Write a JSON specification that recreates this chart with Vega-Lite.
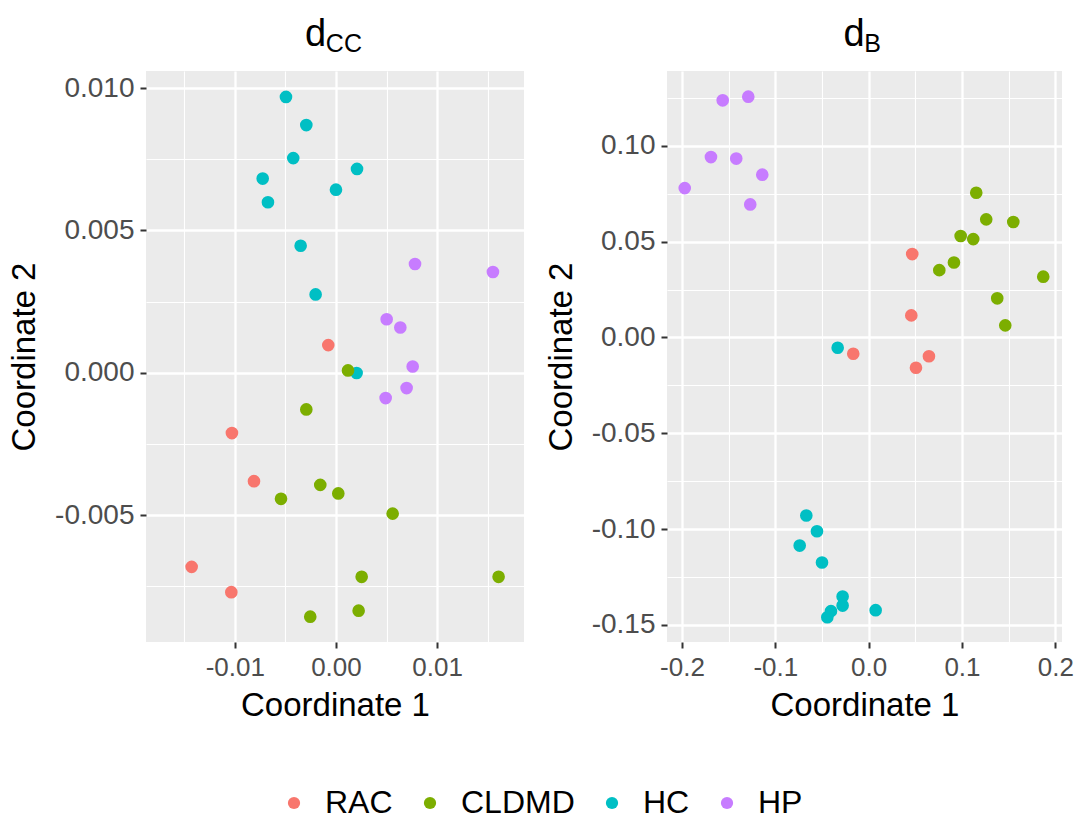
{
  "$schema": "https://vega.github.io/schema/vega-lite/v6.json",
  "padding": {"left": 8, "top": 16, "right": 0, "bottom": 0},
  "background": "white",
  "datasets": {
    "pts": [
      {"panel": "dCC", "group": "HC", "c1": -0.00494, "c2": 0.00969},
      {"panel": "dCC", "group": "HC", "c1": -0.00293, "c2": 0.00870},
      {"panel": "dCC", "group": "HC", "c1": -0.00422, "c2": 0.00754},
      {"panel": "dCC", "group": "HC", "c1": -0.00724, "c2": 0.00682},
      {"panel": "dCC", "group": "HC", "c1": 0.00208, "c2": 0.00716},
      {"panel": "dCC", "group": "HC", "c1": 0.00000, "c2": 0.00643},
      {"panel": "dCC", "group": "HC", "c1": -0.00672, "c2": 0.00599},
      {"panel": "dCC", "group": "HC", "c1": -0.00349, "c2": 0.00446},
      {"panel": "dCC", "group": "HC", "c1": -0.00201, "c2": 0.00275},
      {"panel": "dCC", "group": "HC", "c1": 0.00204, "c2": -0.00001},
      {"panel": "dCC", "group": "HP", "c1": 0.00781, "c2": 0.00382},
      {"panel": "dCC", "group": "HP", "c1": 0.01551, "c2": 0.00354},
      {"panel": "dCC", "group": "HP", "c1": 0.00501, "c2": 0.00188},
      {"panel": "dCC", "group": "HP", "c1": 0.00636, "c2": 0.00159},
      {"panel": "dCC", "group": "HP", "c1": 0.00758, "c2": 0.00022},
      {"panel": "dCC", "group": "HP", "c1": 0.00698, "c2": -0.00054},
      {"panel": "dCC", "group": "HP", "c1": 0.00491, "c2": -0.00089},
      {"panel": "dCC", "group": "RAC", "c1": -0.00076, "c2": 0.00097},
      {"panel": "dCC", "group": "RAC", "c1": -0.01028, "c2": -0.00212},
      {"panel": "dCC", "group": "RAC", "c1": -0.00810, "c2": -0.00381},
      {"panel": "dCC", "group": "RAC", "c1": -0.01426, "c2": -0.00682},
      {"panel": "dCC", "group": "RAC", "c1": -0.01034, "c2": -0.00771},
      {"panel": "dCC", "group": "CLDMD", "c1": 0.00119, "c2": 0.00008},
      {"panel": "dCC", "group": "CLDMD", "c1": -0.00293, "c2": -0.00129},
      {"panel": "dCC", "group": "CLDMD", "c1": -0.00155, "c2": -0.00394},
      {"panel": "dCC", "group": "CLDMD", "c1": 0.00023, "c2": -0.00424},
      {"panel": "dCC", "group": "CLDMD", "c1": -0.00543, "c2": -0.00443},
      {"panel": "dCC", "group": "CLDMD", "c1": 0.00560, "c2": -0.00495},
      {"panel": "dCC", "group": "CLDMD", "c1": 0.00254, "c2": -0.00717},
      {"panel": "dCC", "group": "CLDMD", "c1": 0.01607, "c2": -0.00717},
      {"panel": "dCC", "group": "CLDMD", "c1": 0.00224, "c2": -0.00836},
      {"panel": "dCC", "group": "CLDMD", "c1": -0.00254, "c2": -0.00857},
      {"panel": "dB", "group": "HP", "c1": -0.1564, "c2": 0.1237},
      {"panel": "dB", "group": "HP", "c1": -0.1290, "c2": 0.1256},
      {"panel": "dB", "group": "HP", "c1": -0.1690, "c2": 0.0941},
      {"panel": "dB", "group": "HP", "c1": -0.1419, "c2": 0.0933},
      {"panel": "dB", "group": "HP", "c1": -0.1140, "c2": 0.0849},
      {"panel": "dB", "group": "HP", "c1": -0.1971, "c2": 0.0779},
      {"panel": "dB", "group": "HP", "c1": -0.1269, "c2": 0.0694},
      {"panel": "dB", "group": "CLDMD", "c1": 0.1153, "c2": 0.0755},
      {"panel": "dB", "group": "CLDMD", "c1": 0.1260, "c2": 0.0616},
      {"panel": "dB", "group": "CLDMD", "c1": 0.1550, "c2": 0.0602},
      {"panel": "dB", "group": "CLDMD", "c1": 0.0986, "c2": 0.0529},
      {"panel": "dB", "group": "CLDMD", "c1": 0.1121, "c2": 0.0513},
      {"panel": "dB", "group": "CLDMD", "c1": 0.0914, "c2": 0.0391},
      {"panel": "dB", "group": "CLDMD", "c1": 0.0757, "c2": 0.0351},
      {"panel": "dB", "group": "CLDMD", "c1": 0.1871, "c2": 0.0317},
      {"panel": "dB", "group": "CLDMD", "c1": 0.1378, "c2": 0.0204},
      {"panel": "dB", "group": "CLDMD", "c1": 0.1464, "c2": 0.0063},
      {"panel": "dB", "group": "RAC", "c1": 0.0467, "c2": 0.0435},
      {"panel": "dB", "group": "RAC", "c1": 0.0457, "c2": 0.0115},
      {"panel": "dB", "group": "RAC", "c1": -0.0165, "c2": -0.0085},
      {"panel": "dB", "group": "RAC", "c1": 0.0646, "c2": -0.0098},
      {"panel": "dB", "group": "RAC", "c1": 0.0507, "c2": -0.0158},
      {"panel": "dB", "group": "HC", "c1": -0.0332, "c2": -0.0054},
      {"panel": "dB", "group": "HC", "c1": -0.0668, "c2": -0.0929},
      {"panel": "dB", "group": "HC", "c1": -0.0554, "c2": -0.1011},
      {"panel": "dB", "group": "HC", "c1": -0.0739, "c2": -0.1086},
      {"panel": "dB", "group": "HC", "c1": -0.0500, "c2": -0.1174},
      {"panel": "dB", "group": "HC", "c1": -0.0279, "c2": -0.1352},
      {"panel": "dB", "group": "HC", "c1": -0.0279, "c2": -0.1399},
      {"panel": "dB", "group": "HC", "c1": 0.0075, "c2": -0.1423},
      {"panel": "dB", "group": "HC", "c1": -0.0404, "c2": -0.1428},
      {"panel": "dB", "group": "HC", "c1": -0.0443, "c2": -0.1460}
    ]
  },
  "spacing": 21,
  "hconcat": [
    {
      "width": 378,
      "height": 571,
      "data": {"name": "pts"},
      "transform": [{"filter": "datum.panel === 'dCC'"}],
      "title": {
        "text": "d",
        "subtitle": "\u200b\u00a0\u00a0\u00a0CC",
        "align": "left",
        "anchor": "middle",
        "dx": -30
      },
      "mark": {"type": "point", "filled": true, "opacity": 1, "size": 160},
      "encoding": {
        "x": {
          "field": "c1", "type": "quantitative", "title": "Coordinate 1",
          "scale": {"domain": [-0.01877, 0.01858], "nice": false, "zero": false},
          "axis": {
            "values": [-0.015, -0.01, -0.005, 0, 0.005, 0.01, 0.015],
            "titlePadding": 9,
            "labelExpr": "round(datum.value/0.005) % 2 != 0 ? '' : replace(format(datum.value, '.2f'), '\u2212', '-')",
            "gridWidth": {"condition": {"test": "round(datum.value/0.005) % 2 != 0", "value": 1.1}, "value": 2.3},
            "tickOpacity": {"condition": {"test": "round(datum.value/0.005) % 2 != 0", "value": 0}, "value": 1}
          }
        },
        "y": {
          "field": "c2", "type": "quantitative", "title": "Coordinate 2",
          "scale": {"domain": [-0.00946, 0.0106], "nice": false, "zero": false},
          "axis": {
            "values": [-0.0075, -0.005, -0.0025, 0, 0.0025, 0.005, 0.0075, 0.01],
            "labelFontSize": 28,
            "labelExpr": "round(datum.value/0.0025) % 2 != 0 ? '' : replace(format(datum.value, '.3f'), '\u2212', '-')",
            "gridWidth": {"condition": {"test": "round(datum.value/0.0025) % 2 != 0", "value": 1.1}, "value": 2.3},
            "tickOpacity": {"condition": {"test": "round(datum.value/0.0025) % 2 != 0", "value": 0}, "value": 1}
          }
        },
        "color": {
          "field": "group", "type": "nominal",
          "scale": {"domain": ["RAC", "CLDMD", "HC", "HP"], "range": ["#F8766D", "#7CAE00", "#00BFC4", "#C77CFF"]},
          "legend": {"title": null, "orient": "bottom", "direction": "horizontal"}
        }
      }
    },
    {
      "width": 395,
      "height": 571,
      "data": {"name": "pts"},
      "transform": [{"filter": "datum.panel === 'dB'"}],
      "title": {
        "text": "d",
        "subtitle": "\u200b\u00a0\u00a0\u00a0B",
        "align": "left",
        "anchor": "middle",
        "dx": -21
      },
      "mark": {"type": "point", "filled": true, "opacity": 1, "size": 160},
      "encoding": {
        "x": {
          "field": "c1", "type": "quantitative", "title": "Coordinate 1",
          "scale": {"domain": [-0.2161, 0.2072], "nice": false, "zero": false},
          "axis": {
            "values": [-0.2, -0.15, -0.1, -0.05, 0, 0.05, 0.1, 0.15, 0.2],
            "titlePadding": 9,
            "labelExpr": "round(datum.value/0.05) % 2 != 0 ? '' : replace(format(datum.value, '.1f'), '\u2212', '-')",
            "gridWidth": {"condition": {"test": "round(datum.value/0.05) % 2 != 0", "value": 1.1}, "value": 2.3},
            "tickOpacity": {"condition": {"test": "round(datum.value/0.05) % 2 != 0", "value": 0}, "value": 1}
          }
        },
        "y": {
          "field": "c2", "type": "quantitative", "title": "Coordinate 2",
          "scale": {"domain": [-0.1589, 0.139], "nice": false, "zero": false},
          "axis": {
            "values": [-0.15, -0.125, -0.1, -0.075, -0.05, -0.025, 0, 0.025, 0.05, 0.075, 0.1, 0.125],
            "labelFontSize": 28,
            "labelExpr": "round(datum.value/0.025) % 2 != 0 ? '' : replace(format(datum.value, '.2f'), '\u2212', '-')",
            "gridWidth": {"condition": {"test": "round(datum.value/0.025) % 2 != 0", "value": 1.1}, "value": 2.3},
            "tickOpacity": {"condition": {"test": "round(datum.value/0.025) % 2 != 0", "value": 0}, "value": 1}
          }
        },
        "color": {
          "field": "group", "type": "nominal",
          "scale": {"domain": ["RAC", "CLDMD", "HC", "HP"], "range": ["#F8766D", "#7CAE00", "#00BFC4", "#C77CFF"]},
          "legend": {"title": null, "orient": "bottom", "direction": "horizontal"}
        }
      }
    }
  ],
  "config": {
    "font": "Liberation Sans",
    "view": {"fill": "#EBEBEB", "stroke": null},
    "title": {
      "font": "Liberation Sans",
      "fontSize": 38,
      "fontWeight": "normal",
      "color": "black",
      "subtitleFont": "Liberation Sans",
      "subtitleFontSize": 25,
      "subtitleColor": "black",
      "subtitlePadding": -22,
      "offset": 14
    },
    "axis": {
      "domain": false,
      "grid": true,
      "gridColor": "white",
      "tickColor": "#333333",
      "tickWidth": 2,
      "tickSize": 6,
      "labelFont": "Liberation Sans",
      "labelFontSize": 26,
      "labelColor": "#4D4D4D",
      "labelPadding": 6,
      "labelFlush": false,
      "labelOverlap": false,
      "titleFont": "Liberation Sans",
      "titleFontSize": 33,
      "titleFontWeight": "normal",
      "titleColor": "black",
      "titlePadding": 13
    },
    "legend": {
      "labelFont": "Liberation Sans",
      "labelFontSize": 32,
      "labelColor": "black",
      "symbolType": "circle",
      "symbolSize": 150,
      "symbolStrokeWidth": 0,
      "symbolOpacity": 1,
      "labelOffset": 15,
      "columnPadding": 21,
      "padding": 0,
      "offset": 65,
      "layout": {"bottom": {"anchor": "middle"}}
    }
  }
}
